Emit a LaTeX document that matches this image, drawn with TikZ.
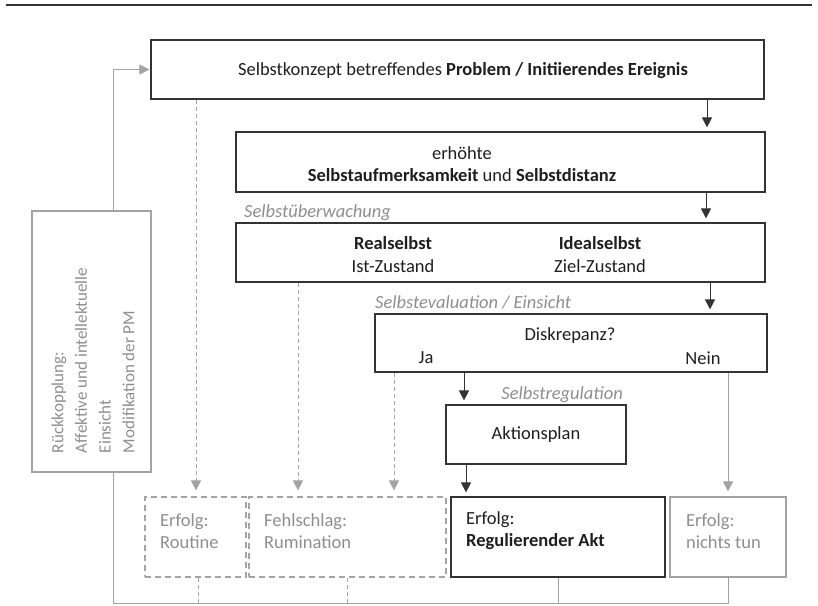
\documentclass[tikz,border=0pt]{standalone}
\usepackage{fontspec}
\setmainfont{Carlito}
\usetikzlibrary{arrows.meta}
\definecolor{dk}{HTML}{333333}
\definecolor{lg}{HTML}{A3A3A3}
\definecolor{tg}{HTML}{8E8E8E}
\definecolor{tx}{HTML}{1E1E1E}
\begin{document}
\begin{tikzpicture}[x=1pt,y=-1pt,
  font=\fontsize{18.5}{22}\selectfont,
  box/.style={draw=dk, line width=1.2pt, inner sep=0pt, text=tx},
  gbox/.style={draw=lg, line width=1.2pt, inner sep=0pt},
  dbox/.style={draw=lg, line width=1.2pt, inner sep=0pt, dash pattern=on 6pt off 4pt},
  txt/.style={inner sep=0pt, text=tx},
  gtxt/.style={inner sep=0pt, text=tg},
  lab/.style={inner sep=0pt, text=tg, font=\fontsize{18.5}{22}\selectfont\itshape},
  arr/.style={draw=dk, line width=1pt, -{Triangle[length=10pt,width=10pt]}, shorten >=4pt},
  garr/.style={draw=lg, line width=1pt, -{Triangle[length=10pt,width=10pt]}, shorten >=5pt},
  gdarr/.style={draw=lg, line width=1pt, dash pattern=on 4pt off 3pt, -{Triangle[length=10pt,width=10pt]}, shorten >=6pt},
  gline/.style={draw=lg, line width=1pt},
  gdline/.style={draw=lg, line width=1pt, dash pattern=on 4pt off 3pt}
]
\useasboundingbox (0,0) rectangle (818,605);
% top rule
\coordinate (rl) at (6,5);
\coordinate (rr) at (812,5);
\draw[dk, line width=1.2pt] (rl) -- (rr);

% boxes
\node[box, minimum width=613, minimum height=59] (b1) at (457.5,69.5) {};
\node[txt] (t1) at (463,71) {Selbstkonzept betreffendes \textbf{Problem / Initiierendes Ereignis}};

\node[box, minimum width=529, minimum height=60] (b2) at (500.5,162) {};
\node[txt, align=center] (t2) at (462,164) {erhöhte\\\textbf{Selbstaufmerksamkeit} und \textbf{Selbstdistanz}};

\node[box, minimum width=529, minimum height=59] (b3) at (500.5,252.5) {};
\node[txt, align=center, font=\fontsize{18.5}{23}\selectfont] (t3a) at (393,254.5) {\textbf{Realselbst}\\Ist-Zustand};
\node[txt, align=center, font=\fontsize{18.5}{23}\selectfont] (t3b) at (600,254.5) {\textbf{Idealselbst}\\Ziel-Zustand};

\node[box, minimum width=392, minimum height=58] (b4) at (571,343) {};
\node[txt] (t4) at (570,336) {Diskrepanz?};
\node[txt] (ja) at (426,358) {Ja};
\node[txt] (nein) at (703,358) {Nein};

\node[box, minimum width=180, minimum height=59] (ap) at (536,434.5) {Aktionsplan};

\node[box, minimum width=214, minimum height=80] (rg) at (558,537) {};
\node[txt, align=left, anchor=west] (trg) at (466,531) {Erfolg:\\\textbf{Regulierender Akt}};

\node[gbox, minimum width=116, minimum height=80] (nt) at (728,537) {};
\node[gtxt, align=left, anchor=west] (tnt) at (686,531) {Erfolg:\\nichts tun};

\node[dbox, minimum width=101, minimum height=80] (ro) at (195.5,537) {};
\node[gtxt, align=left, anchor=west] (tro) at (160,531) {Erfolg:\\Routine};

\node[dbox, minimum width=197, minimum height=80] (ru) at (347.5,537) {};
\node[gtxt, align=left, anchor=west] (tru) at (264,531) {Fehlschlag:\\Rumination};

\node[gbox, minimum width=119, minimum height=261] (fb) at (91.5,341.5) {};
\node[gtxt, align=left, rotate=90, font=\fontsize{17}{23.7}\selectfont] (tfb) at (93,360.5)
  {Rückkopplung:\\Affektive und intellektuelle\\Einsicht\\Modifikation der PM};

% labels
\node[lab, anchor=west] (l1) at (244,213) {Selbstüberwachung};
\node[lab, anchor=west] (l2) at (375,302) {Selbstevaluation / Einsicht};
\node[lab, anchor=east] (l3) at (623,395) {Selbstregulation};

% x positions
\coordinate (x707) at (707,0);
\coordinate (x706) at (706,0);
\coordinate (x710) at (710,0);
\coordinate (x464) at (464,0);
\coordinate (x466) at (466,0);
\coordinate (x196) at (196,0);
\coordinate (x198) at (198,0);
\coordinate (x298) at (298,0);
\coordinate (x394) at (394,0);
\coordinate (x113) at (113,0);
\coordinate (bl) at (113,603);

% main arrows
\draw[arr] (b1.south -| x707) -- (b2.north -| x707);
\draw[arr] (b2.south -| x706) -- (b3.north -| x706);
\draw[arr] (b3.south -| x710) -- (b4.north -| x710);
\draw[arr] (b4.south -| x464) -- (ap.north -| x464);
\draw[arr] (ap.south -| x466) -- (rg.north -| x466);
\draw[garr] (b4.south -| nt.north) -- (nt.north);

% dashed arrows
\draw[gdarr] (b1.south -| x196) -- (ro.north -| x196);
\draw[gdarr] (b3.south -| x298) -- (ru.north -| x298);
\draw[gdarr] (b4.south -| x394) -- (ru.north -| x394);

% feedback loop
\draw[garr, shorten >=1pt] (fb.north -| x113) |- (b1.west);
\draw[gline] (fb.south -| x113) -- (bl) -| (nt.south);
\draw[gline] (rg.south) -- (rg.south |- bl);
\draw[gdline] (ro.south -| x198) -- (bl -| x198);
\draw[gdline] (ru.south) -- (ru.south |- bl);
\end{tikzpicture}
\end{document}
